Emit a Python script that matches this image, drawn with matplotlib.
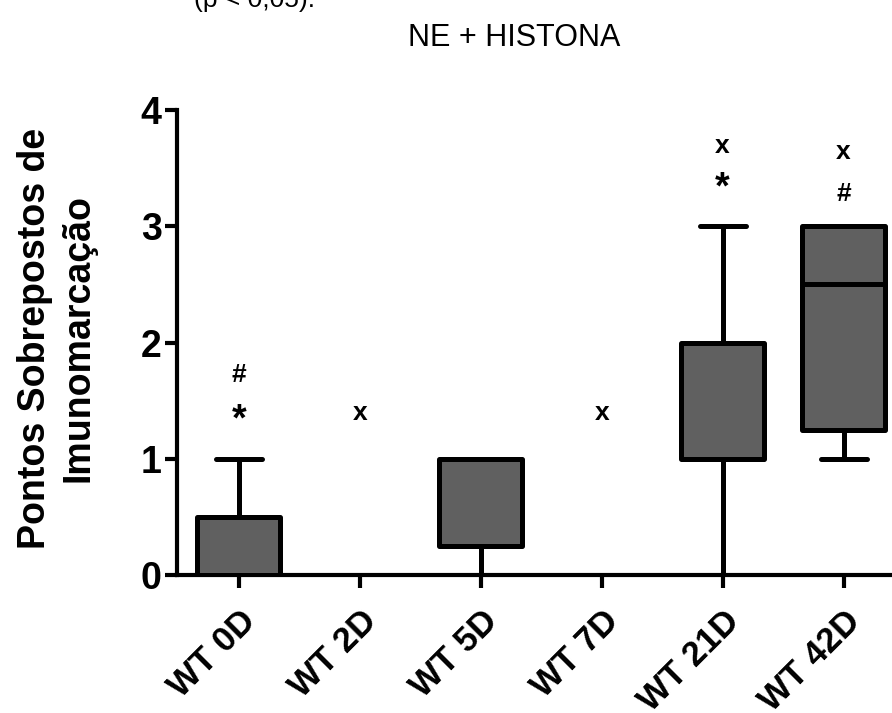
import matplotlib
matplotlib.use("Agg")
import matplotlib.pyplot as plt

plt.rcParams['font.family'] = ['Liberation Sans', 'DejaVu Sans']

categories = ["WT 0D", "WT 2D", "WT 5D", "WT 7D", "WT 21D", "WT 42D"]
whislo = [0, 0, 0, 0, 0, 1]
q1 = [0, 0, 0.25, 0, 1, 1.25]
med = [0, 0, 1, 0, 1, 2.5]
q3 = [0.5, 0, 1, 0, 2, 3]
whishi = [1, 0, 1, 0, 3, 3]

annotations = [
    ("WT 0D", "*", 1.33), ("WT 0D", "#", 1.72),
    ("WT 2D", "x", 1.39),
    ("WT 7D", "x", 1.39),
    ("WT 21D", "*", 3.33), ("WT 21D", "x", 3.69),
    ("WT 42D", "#", 3.28), ("WT 42D", "x", 3.64),
]

stats = []
for i, c in enumerate(categories):
    stats.append(dict(label=c, whislo=whislo[i], q1=q1[i], med=med[i],
                      q3=q3[i], whishi=whishi[i], fliers=[]))

fig = plt.figure(figsize=(8.92, 7.13), dpi=100)
ax = fig.add_axes([0.1984, 0.1935, 0.8016, 0.652])

lw = 3.6
positions = list(range(len(categories)))
ax.bxp(stats, positions=positions, widths=0.69, patch_artist=True,
       boxprops=dict(facecolor="#606060", edgecolor="black", linewidth=lw,
                     joinstyle="round"),
       medianprops=dict(color="black", linewidth=lw, solid_capstyle="butt"),
       whiskerprops=dict(color="black", linewidth=lw),
       capprops=dict(color="black", linewidth=lw, solid_capstyle="round"),
       capwidths=0.38, zorder=3)

ax.set_xlim(-0.51, 5.4)
ax.set_ylim(0, 4)
ax.set_yticks([0, 1, 2, 3, 4])
ax.set_xticks(positions)
ax.set_xticklabels(categories, rotation=45, ha="right", rotation_mode="anchor",
                   fontsize=25, fontweight="bold")
for lab in ax.get_yticklabels():
    lab.set_fontsize(27)
    lab.set_fontweight("bold")

for s in ["top", "right"]:
    ax.spines[s].set_visible(False)
for s in ["left", "bottom"]:
    ax.spines[s].set_linewidth(3)
    ax.spines[s].set_zorder(2)
ax.tick_params(axis="both", width=3, length=9, direction="out", pad=2)
ax.tick_params(axis="x", pad=12)

ax.set_ylabel("Pontos Sobrepostos de\nImunomarcação", fontsize=27,
              fontweight="bold", linespacing=1.25)
ax.yaxis.set_label_coords(-0.113, 0.51)

for cat, sym, yv in annotations:
    ax.text(categories.index(cat), yv, sym, ha="center", va="center",
            fontsize=19 if sym != "*" else 27, fontweight="bold", zorder=5)

fig.text(0.577, 0.947, "NE + HISTONA", ha="center", va="center", fontsize=22)
fig.text(0.218, 1.0, "(p < 0,05).", ha="left", va="center", fontsize=19)

fig.savefig("out.png", dpi=100)
